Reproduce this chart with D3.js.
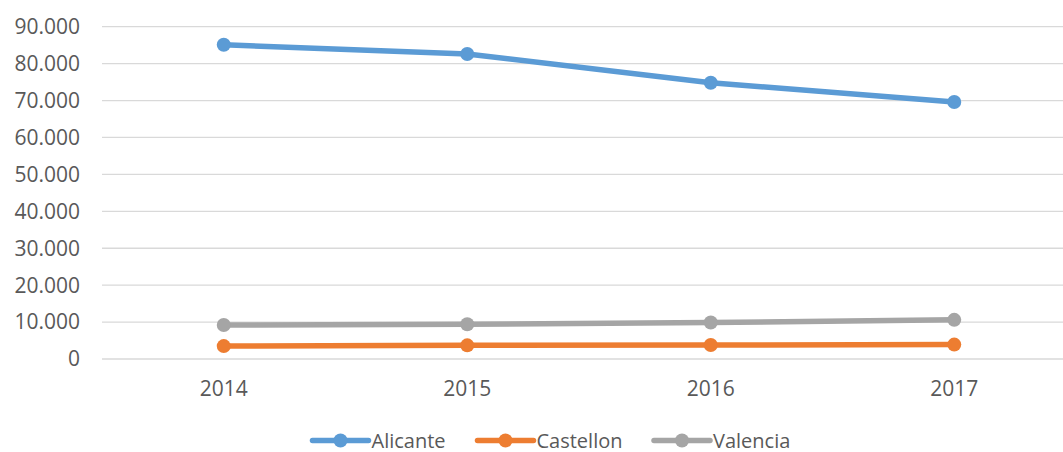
<!DOCTYPE html>
<html>
<head>
<meta charset="utf-8">
<script src="https://cdn.jsdelivr.net/npm/d3@7"></script>
<style>
  html, body { margin: 0; padding: 0; background: #fff; }
  svg { display: block; }
  text { font-family: "Open Sans", "Liberation Sans", sans-serif; fill: #595959; }
</style>
</head>
<body>
<svg id="chart" width="1063" height="452"></svg>
<script>
const years = ["2014", "2015", "2016", "2017"];
const alicante = [85100, 82600, 74800, 69600];
const castellon = [3500, 3700, 3800, 3900];
const valencia = [9200, 9400, 9900, 10600];
const yTicks = [0, 10000, 20000, 30000, 40000, 50000, 60000, 70000, 80000, 90000];
const seriesNames = ["Alicante", "Castellon", "Valencia"];
const seriesColors = ["#5B9BD5", "#ED7D31", "#A5A5A5"];

const series = [
  { name: seriesNames[0], values: alicante, color: seriesColors[0] },
  { name: seriesNames[1], values: castellon, color: seriesColors[1] },
  { name: seriesNames[2], values: valencia, color: seriesColors[2] }
];

const svg = d3.select("#chart");
const W = 1063, H = 452;
const mLeft = 102, mRight = 1076, mTop = 26.7, mBottom = 359;

const x = d3.scaleBand().domain(years).range([mLeft, mRight]).paddingInner(0).paddingOuter(0);
const y = d3.scaleLinear().domain([0, 90000]).range([mBottom, mTop]);

const fmt = v => v === 0 ? "0" : d3.format(",")(v).replace(/,/g, ".");

// gridlines
svg.append("g")
  .selectAll("line")
  .data(yTicks)
  .join("line")
  .attr("x1", mLeft).attr("x2", W)
  .attr("y1", d => y(d)).attr("y2", d => y(d))
  .attr("stroke", "#D9D9D9")
  .attr("stroke-width", 1.3);

// y labels
svg.append("g")
  .selectAll("text")
  .data(yTicks)
  .join("text")
  .attr("x", 80)
  .attr("y", d => y(d))
  .attr("dy", "0.35em")
  .attr("text-anchor", "end")
  .attr("font-size", 21)
  .text(fmt);

// x labels
svg.append("g")
  .selectAll("text")
  .data(years)
  .join("text")
  .attr("x", d => x(d) + x.bandwidth() / 2)
  .attr("y", 389)
  .attr("dy", "0.35em")
  .attr("text-anchor", "middle")
  .attr("font-size", 21)
  .text(d => d);

const cx = d => x(d) + x.bandwidth() / 2;
const line = d3.line().x((v, i) => cx(years[i])).y(v => y(v));

series.forEach(s => {
  const g = svg.append("g");
  g.append("path")
    .attr("d", line(s.values))
    .attr("fill", "none")
    .attr("stroke", s.color)
    .attr("stroke-width", 5.5)
    .attr("stroke-linejoin", "round")
    .attr("stroke-linecap", "round");
  g.selectAll("circle")
    .data(s.values)
    .join("circle")
    .attr("cx", (v, i) => cx(years[i]))
    .attr("cy", v => y(v))
    .attr("r", 7)
    .attr("fill", s.color);
});

// legend
const legendY = 440.5;
const legendStarts = [312.5, 477.5, 654];
const legend = svg.append("g");
series.forEach((s, i) => {
  const x0 = legendStarts[i];
  const g = legend.append("g");
  g.append("line")
    .attr("x1", x0).attr("x2", x0 + 56)
    .attr("y1", legendY).attr("y2", legendY)
    .attr("stroke", s.color)
    .attr("stroke-width", 5.5)
    .attr("stroke-linecap", "round");
  g.append("circle")
    .attr("cx", x0 + 28).attr("cy", legendY).attr("r", 7)
    .attr("fill", s.color);
  g.append("text")
    .attr("x", x0 + 59)
    .attr("y", legendY)
    .attr("dy", "0.35em")
    .attr("font-size", 20)
    .text(s.name);
});
</script>
</body>
</html>
